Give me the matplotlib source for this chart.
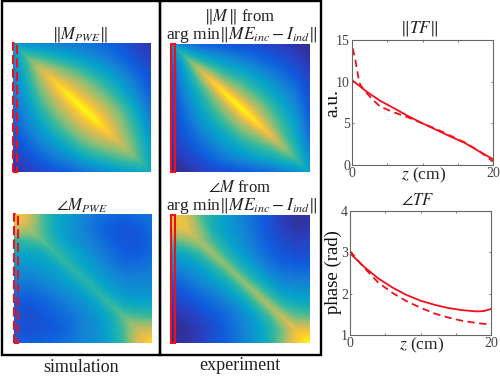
import matplotlib
matplotlib.use("Agg")
import matplotlib.pyplot as plt
from matplotlib.colors import LinearSegmentedColormap
from matplotlib.patches import Rectangle
import matplotlib.tri as mtri
import numpy as np

W, H = 500, 376
plt.rcParams['font.family'] = ['Liberation Serif', 'DejaVu Serif']
plt.rcParams['mathtext.fontset'] = 'stix'

parula_colors = ['#352a87', '#2a3fc0', '#0f5cdd', '#1481d6', '#06a4ca', '#2eb7a4',
                 '#87bf77', '#d1bb59', '#fec832', '#f9fb0e']

mag_sim = [
    [.42, .38, .36, .34, .32, .30, .27, .24, .20, .13, .06],
    [.38, .60, .55, .50, .45, .40, .35, .30, .24, .17, .12],
    [.36, .55, .78, .70, .62, .55, .47, .40, .32, .24, .16],
    [.33, .50, .70, .90, .78, .69, .59, .50, .40, .30, .20],
    [.30, .45, .62, .78, .98, .82, .71, .60, .48, .36, .24],
    [.27, .40, .55, .69, .82, 1.0, .84, .71, .58, .44, .29],
    [.24, .35, .47, .59, .71, .84, .98, .80, .65, .50, .33],
    [.20, .30, .40, .50, .60, .71, .80, .88, .70, .55, .38],
    [.16, .24, .32, .40, .48, .58, .65, .70, .75, .60, .42],
    [.10, .17, .24, .30, .36, .44, .50, .55, .60, .62, .45],
    [.03, .12, .16, .20, .24, .29, .33, .38, .42, .45, .48],
]
phase_sim = [
    [.90, .80, .60, .48, .42, .36, .30, .27, .25, .27, .30],
    [.78, .74, .60, .47, .40, .34, .27, .23, .20, .22, .27],
    [.55, .58, .62, .50, .42, .36, .30, .24, .20, .20, .25],
    [.46, .46, .48, .57, .48, .42, .34, .28, .23, .22, .26],
    [.40, .40, .42, .46, .55, .46, .40, .33, .28, .28, .30],
    [.34, .33, .36, .41, .46, .54, .45, .38, .34, .34, .35],
    [.27, .26, .29, .34, .39, .45, .54, .45, .40, .38, .38],
    [.22, .20, .24, .28, .33, .38, .45, .57, .48, .46, .46],
    [.20, .17, .20, .24, .28, .34, .40, .48, .62, .60, .58],
    [.21, .18, .20, .22, .27, .34, .38, .46, .60, .76, .78],
    [.27, .23, .24, .26, .30, .35, .38, .46, .58, .80, .92],
]
mag_exp = [
    [.40, .30, .24, .22, .20, .18, .16, .13, .10, .05, .02],
    [.30, .58, .46, .40, .35, .30, .26, .22, .17, .12, .06],
    [.24, .46, .76, .60, .50, .44, .38, .31, .25, .18, .11],
    [.21, .40, .60, .90, .68, .58, .49, .41, .33, .25, .15],
    [.18, .35, .50, .68, .98, .74, .61, .50, .41, .31, .18],
    [.16, .30, .44, .58, .74, 1.0, .76, .61, .48, .37, .21],
    [.14, .26, .38, .49, .61, .76, .96, .70, .55, .42, .24],
    [.12, .22, .31, .41, .50, .61, .70, .86, .61, .46, .27],
    [.09, .17, .25, .33, .41, .48, .55, .61, .72, .52, .32],
    [.04, .12, .18, .25, .31, .37, .42, .46, .52, .58, .38],
    [.01, .04, .10, .14, .18, .21, .24, .27, .32, .38, .44],
]
phase_exp = [
    [.86, .82, .62, .50, .42, .34, .28, .20, .10, .04, .06],
    [.80, .84, .68, .50, .42, .36, .28, .20, .12, .06, .08],
    [.60, .66, .72, .58, .46, .38, .30, .22, .16, .12, .14],
    [.44, .48, .56, .70, .54, .43, .34, .26, .20, .17, .18],
    [.34, .38, .44, .54, .68, .52, .42, .32, .26, .24, .24],
    [.26, .30, .36, .43, .52, .68, .52, .41, .34, .32, .32],
    [.18, .22, .28, .34, .42, .52, .70, .54, .43, .40, .40],
    [.12, .15, .21, .26, .32, .41, .54, .72, .56, .50, .48],
    [.05, .08, .14, .20, .26, .34, .43, .56, .76, .64, .62],
    [.02, .04, .10, .17, .24, .32, .40, .50, .64, .84, .84],
    [.04, .05, .11, .18, .24, .32, .40, .50, .66, .88, 1.0],
]

z_tf_solid = [0, 2, 4, 6, 8, 10, 12, 14, 16, 18, 20]
tf_mag_solid = [10.2, 8.85, 7.7, 6.8, 5.85, 5.0, 4.2, 3.4, 2.65, 1.65, 0.7]
z_tf_dash = [0.1, 0.5, 1, 1.2, 2, 3, 4, 6, 8, 10, 12, 14, 16, 18, 20]
tf_mag_dash = [14, 12.5, 10.0, 9.6, 8.7, 7.8, 7.0, 6.3, 5.7, 5.0, 4.3, 3.5, 2.7, 1.7, 0.4]

z_ph_solid = [0, 2, 4, 6, 8, 10, 12, 14, 16, 18, 19, 20]
tf_ph_solid = [2.98, 2.65, 2.37, 2.15, 1.97, 1.83, 1.73, 1.65, 1.6, 1.57, 1.58, 1.63]
z_ph_dash = [0, 2, 3, 4, 6, 8, 10, 12, 14, 16, 18, 20]
tf_ph_dash = [3.03, 2.63, 2.45, 2.27, 2.02, 1.82, 1.66, 1.52, 1.42, 1.34, 1.29, 1.25]

tick_x = [0, 20]
tick_x_minor = [5, 10, 15]
ticks_mag = [0, 5, 10, 15]
ticks_ph = [1, 2, 3, 4]

parula = LinearSegmentedColormap.from_list('parula', parula_colors)
fig = plt.figure(figsize=(W / 100, H / 100), dpi=100)


def box(x0, y0, x1, y1):
    return [x0 / W, 1 - y1 / H, (x1 - x0) / W, (y1 - y0) / H]


def resample(values, n=160):
    """Read the coarse grid on cells split along the main diagonal, keeping the ridge sharp."""
    v = np.array(values, dtype=float)
    rows, cols = v.shape
    jj, ii = np.meshgrid(np.arange(cols), np.arange(rows))
    idx = lambda r, c: r * cols + c
    tris = []
    for r in range(rows - 1):
        for c in range(cols - 1):
            tris.append([idx(r, c), idx(r, c + 1), idx(r + 1, c + 1)])
            tris.append([idx(r, c), idx(r + 1, c + 1), idx(r + 1, c)])
    t = mtri.Triangulation(jj.ravel().astype(float), ii.ravel().astype(float), tris)
    interp = mtri.LinearTriInterpolator(t, v.ravel())
    gx, gy = np.meshgrid(np.linspace(0, cols - 1, n), np.linspace(0, rows - 1, n))
    return np.ma.filled(interp(gx, gy), 0.0)


def heat(values, rect, dashed):
    ax = fig.add_axes(box(*rect))
    ax.imshow(resample(values), cmap=parula, vmin=0, vmax=1, interpolation='bilinear',
              aspect='auto', extent=(0, 10, 10, 0))
    ax.axis('off')
    strip = Rectangle((0, 0), 4 / (rect[2] - rect[0]), 1, transform=ax.transAxes, fill=False,
                      ec='#f0101c', lw=1.5, ls=(0, (4.5, 2)) if dashed else '-', clip_on=False)
    ax.add_patch(strip)


heat(mag_sim, (13, 43, 150, 172), True)
heat(phase_sim, (14, 214, 151, 343), True)
heat(mag_exp, (171, 44, 309, 172), False)
heat(phase_exp, (171, 215, 309, 343), False)

for x0, x1 in [(2, 160), (160, 321)]:
    fig.add_artist(Rectangle((x0 / W, 1 - 355 / H), (x1 - x0) / W, 354 / H,
                             transform=fig.transFigure, fill=False, ec='black', lw=1.7))


def ftext(x, y, s, size=11.5, **kw):
    fig.text(x / W, 1 - y / H, s, ha='center', va='center', fontsize=size, color='#222222', **kw)


ftext(80, 34, r'$\|M_{PWE}\|$', 12)
ftext(82, 206, r'$\angle M_{PWE}$', 12)
ftext(240, 16, r'$\|M\,\|$ from', 12)
ftext(242, 35, r'arg min$\|ME_{inc}-I_{ind}\|$', 12.5)
ftext(240, 188, r'$\angle M$ from', 12)
ftext(242, 206, r'arg min$\|ME_{inc}-I_{ind}\|$', 12.5)
ftext(81, 367, 'simulation', 13)
ftext(240, 366, 'experiment', 13)
ftext(419, 28, r'$\|TF\|$', 12.5)
ftext(418, 201, r'$\angle TF$', 12)


def line_axes(rect, ylim, yticks, zs, s, zd, d, ylabel, ylab_x, ylab_y, xlab_y, ysize):
    ax = fig.add_axes(box(*rect))
    ax.plot(zs, s, color='#f0101c', lw=1.3)
    ax.plot(zd, d, color='#f0101c', lw=1.3, ls=(0, (4, 2.5)))
    ax.set_xlim(0, 20)
    ax.set_ylim(*ylim)
    ax.set_xticks(tick_x)
    ax.set_xticks(tick_x_minor, minor=True)
    ax.set_yticks(yticks)
    ax.tick_params(which='both', direction='in', length=1.5, width=0.6, color='#666666',
                   top=True, right=True, labelcolor='#444444', labelsize=10, pad=1.5)
    for sp in ax.spines.values():
        sp.set_color('#666666')
        sp.set_linewidth(0.8)
    fig.text(ylab_x / W, 1 - ylab_y / H, ylabel, rotation=90, ha='center', va='center',
             fontsize=ysize, color='#111111')
    fig.text((rect[0] + rect[2]) / 2 / W + 0.002, 1 - xlab_y / H, r'$z$ (cm)', ha='center', va='center',
             fontsize=12.5, color='#222222')


line_axes((352, 40, 493, 165), (0, 15), ticks_mag, z_tf_solid, tf_mag_solid, z_tf_dash, tf_mag_dash,
          'a.u.', 333, 103, 175, 14)
line_axes((350, 211, 491, 335), (1, 4), ticks_ph, z_ph_solid, tf_ph_solid, z_ph_dash, tf_ph_dash,
          'phase (rad)', 333, 272, 345, 13.5)

fig.savefig('out.png', dpi=100)
